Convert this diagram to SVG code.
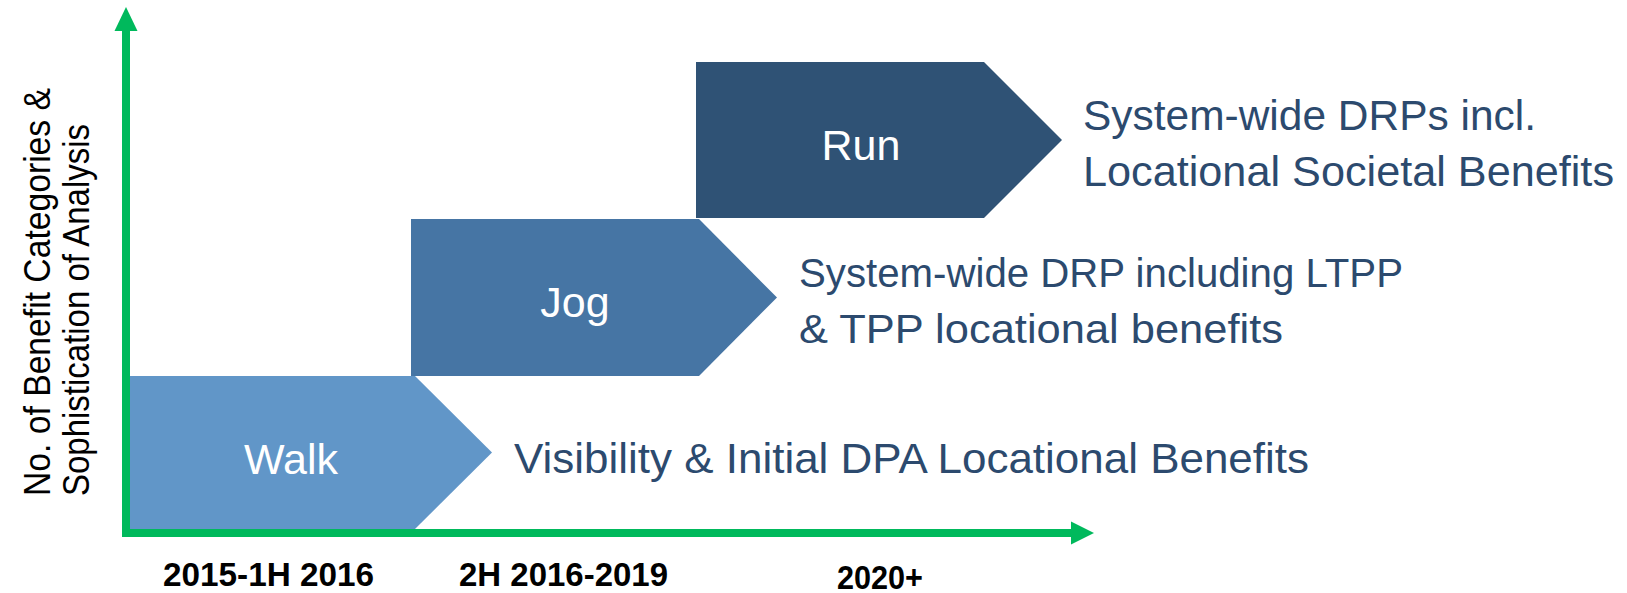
<svg xmlns="http://www.w3.org/2000/svg" width="1627" height="593" viewBox="0 0 1627 593">
  <style>
    .label { font-family: "Liberation Sans", Arial, sans-serif; fill: #FFFFFF; font-size: 43px; text-anchor: middle; }
    .desc { font-family: "Liberation Sans", Arial, sans-serif; fill: #2C4A6E; font-size: 43px; }
    .year { font-family: "Liberation Sans", Arial, sans-serif; font-weight: bold; fill: #000000; font-size: 33.5px; }
    .axis-title { font-family: "Liberation Sans", Arial, sans-serif; fill: #000000; font-size: 36px; }
    .axis { fill: none; stroke: #00B95C; stroke-width: 8; stroke-linejoin: miter; }
    .axis-head { fill: #00B95C; }
  </style>

  <rect x="0" y="0" width="1627" height="593" fill="#FFFFFF"/>

  <!-- Stage chevrons -->
  <g id="walk">
    <polygon points="130,376 415,376 492,452.5 415,529 130,529" fill="#6196C8"/>
    <text class="label" x="291" y="474">Walk</text>
    <text class="desc" x="514" y="473" textLength="795" lengthAdjust="spacingAndGlyphs">Visibility &amp; Initial DPA Locational Benefits</text>
  </g>

  <g id="jog">
    <polygon points="411,219 699,219 777,297.5 699,376 411,376" fill="#4675A4"/>
    <text class="label" x="575" y="317">Jog</text>
    <text class="desc" x="799" y="287" style="font-size:41.5px" textLength="604" lengthAdjust="spacingAndGlyphs">System-wide DRP including LTPP</text>
    <text class="desc" x="799" y="343" style="font-size:41.5px" textLength="484" lengthAdjust="spacingAndGlyphs">&amp; TPP locational benefits</text>
  </g>

  <g id="run">
    <polygon points="696,62 984,62 1062,140 984,218 696,218" fill="#2F5275"/>
    <text class="label" x="861" y="160">Run</text>
    <text class="desc" x="1083" y="130" textLength="453" lengthAdjust="spacingAndGlyphs">System-wide DRPs incl.</text>
    <text class="desc" x="1083" y="186" textLength="531" lengthAdjust="spacingAndGlyphs">Locational Societal Benefits</text>
  </g>

  <!-- Axes -->
  <g id="connectors">
    <path class="axis" d="M126,31 V533 H1072"/>
    <polygon class="axis-head" points="126,7 137.5,31 114.5,31"/>
    <polygon class="axis-head" points="1094,533 1071,521.5 1071,544.5"/>
  </g>

  <!-- Time periods along the horizontal axis -->
  <g id="periods">
    <text class="year" x="163" y="586" textLength="211" lengthAdjust="spacingAndGlyphs">2015-1H 2016</text>
    <text class="year" x="459" y="586" textLength="209" lengthAdjust="spacingAndGlyphs">2H 2016-2019</text>
    <text class="year" x="837" y="589" textLength="86" lengthAdjust="spacingAndGlyphs">2020+</text>
  </g>

  <!-- Vertical axis title -->
  <g id="axis-title">
    <text class="axis-title" transform="translate(50,496) rotate(-90)" x="0" y="0" textLength="408" lengthAdjust="spacingAndGlyphs">No. of Benefit Categories &amp;</text>
    <text class="axis-title" transform="translate(89,496) rotate(-90)" x="0" y="0" textLength="372" lengthAdjust="spacingAndGlyphs">Sophistication of Analysis</text>
  </g>
</svg>
